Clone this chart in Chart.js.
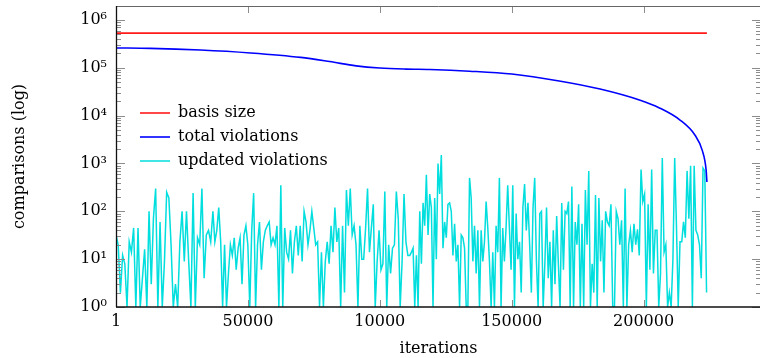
<!DOCTYPE html>
<html>
<head>
<meta charset="utf-8">
<script src="https://cdn.jsdelivr.net/npm/chart.js@4.4.1/dist/chart.umd.min.js"></script>
<style>
  html, body { margin: 0; padding: 0; background: #fff; overflow: hidden; }
  #wrap { width: 770px; height: 358px; }
</style>
</head>
<body>
<div id="wrap"><canvas id="grafico" width="770" height="358"></canvas></div>
<script>
// ticks
const xTickValues = [1, 50000, 100000, 150000, 200000];
const xTickLabels = ["1", "50000", "10000", "150000", "200000"];
const yTickValues = [1, 10, 100, 1000, 10000, 100000, 1000000];
const yTickLabels = ["10⁰", "10¹", "10²", "10³", "10⁴", "10⁵", "10⁶"];

// basis size (constant)
const basisIter = [1, 224000];
const basisSize = [530000, 530000];

// total violations
const totalIter = [1, 13000, 32000, 51000, 70000, 81000, 91000, 100000, 110000, 119000, 134000,
  150000, 168000, 183500, 198700, 206000, 213800, 219500, 222200, 223700, 224000];
const totalViolations = [260000, 255000, 235000, 204000, 165000, 135000, 110000, 99000, 94000, 92000, 85000,
  74000, 53000, 36000, 21000, 14500, 8100, 3900, 1900, 730, 410];

// updated violations, read in six stretches of the x axis
const updatedBreaks = [1, 36742, 74242, 111364, 148485, 185606, 223864];
const updated1 = [32,20,2,12,8,1,23,14,45,1,45,1,4,16,1,100,3,72,300,1,60,1,9,250,190,20,1,3,1,23,100,9,100,9,1,240,1,28,20,300,4,32,40,23,100];
const updated2 = [23,40,120,23,1,20,1,5,20,12,28,6,17,28,3,32,50,20,1,40,240,1,20,60,6,23,40,50,60,20,28,20,50,1,350,1,45,14,10,40,5,23,50,12,50,9,100,60,20,40,100];
const updated3 = [45,20,23,1,14,1,9,23,8,50,14,120,23,45,1,50,2,280,50,300,32,50,20,1,50,10,10,45,300,14,45,140,1,9,40,6,8,260,1,20,5,17,20,260,70,1,9,230,23,12,12];
const updated4 = [14,17,1,12,1,100,8,150,50,580,32,230,120,1,190,10,1000,230,1500,17,60,28,140,150,100,12,55,9,20,1,32,28,17,1,1,500,190,9,50,5,40,1,40,9,23,160,45,9,1,14,1,50,14,500,1,45,9,45,350];
const updated5 = [45,6,350,1,90,10,23,2,120,370,40,150,20,2,120,500,9,1,90,100,1,8,120,4,23,1,40,3,80,8,1,150,6,100,90,160,1,330,1,60,20,140,1,55,1,280,20,700,1,8,2,220,1,190,9,65,2,100];
const updated6 = [60,50,140,1,1,100,70,20,65,1,300,1,20,40,14,55,20,42,12,750,160,230,1,140,6,750,5,40,40,1,5,1300,14,20,1,2,1,10,1300,50,1,23,23,60,28,700,70,900,1,900,40,32,20,4,800,700,2];

const serif = "'DejaVu Serif', 'Liberation Serif', serif";

const basisData = basisIter.map((x, i) => ({ x: x, y: basisSize[i] }));
const totalData = totalIter.map((x, i) => ({ x: x, y: totalViolations[i] }));
const updatedData = [];
[updated1, updated2, updated3, updated4, updated5, updated6].forEach((vals, k) => {
    const a = updatedBreaks[k], b = updatedBreaks[k + 1];
    vals.forEach((v, i) => {
        const t = k === 0 ? i / (vals.length - 1) : (i + 1) / vals.length;
        updatedData.push({ x: a + (b - a) * t, y: v });
    });
});

// pgfplots style frame with inward ticks
const frameTicks = {
    id: "frameTicks",
    afterLayout(chart) {
        const lg = chart.legend;
        lg.left = chart.chartArea.left + 16;
        lg.top = 97;
    },
    afterDatasetsDraw(chart) {
        const { ctx, chartArea: a, scales: { x, y } } = chart;
        ctx.save();
        ctx.lineWidth = 1;
        ctx.strokeStyle = "#8c8c8c";
        ctx.beginPath();
        for (let e = 0; e <= 6; e++) {
            for (let m = 1; m <= 9; m++) {
                const v = m * Math.pow(10, e);
                if (v > y.max) continue;
                const py = Math.round(y.getPixelForValue(v)) + 0.5;
                const len = m === 1 ? 9 : 5;
                ctx.moveTo(a.left, py); ctx.lineTo(a.left + len, py);
                ctx.moveTo(a.right, py); ctx.lineTo(a.right - len, py);
            }
        }
        xTickValues.slice(1).forEach(v => {
            const px = Math.round(x.getPixelForValue(v)) + 0.5;
            ctx.moveTo(px, a.bottom); ctx.lineTo(px, a.bottom - 7);
            ctx.moveTo(px, a.top); ctx.lineTo(px, a.top + 7);
        });
        ctx.stroke();

        ctx.strokeStyle = "#666";
        ctx.beginPath();
        ctx.moveTo(a.left, a.top + 0.5); ctx.lineTo(a.right, a.top + 0.5);
        ctx.moveTo(a.right - 0.5, a.top); ctx.lineTo(a.right - 0.5, a.bottom);
        ctx.stroke();

        ctx.strokeStyle = "#111";
        ctx.lineWidth = 1.3;
        ctx.beginPath();
        ctx.moveTo(a.left + 0.5, a.top); ctx.lineTo(a.left + 0.5, a.bottom);
        ctx.moveTo(a.left, a.bottom); ctx.lineTo(a.right, a.bottom);
        ctx.stroke();
        ctx.restore();
    }
};

const ctx = document.getElementById("grafico").getContext("2d");
const grafico = new Chart(ctx, {
    type: "line",
    data: {
        datasets: [{
            label: "basis size",
            data: basisData,
            borderColor: "#ff1a1a",
            backgroundColor: "#ff1a1a",
            borderWidth: 1.6
        }, {
            label: "total violations",
            data: totalData,
            borderColor: "#0000ff",
            backgroundColor: "#0000ff",
            borderWidth: 1.6,
            cubicInterpolationMode: "monotone"
        }, {
            label: "updated violations",
            data: updatedData,
            borderColor: "#00dede",
            backgroundColor: "#00dede",
            borderWidth: 1.5
        }]
    },
    options: {
        responsive: false,
        animation: false,
        devicePixelRatio: 1,
        elements: { point: { radius: 0 }, line: { tension: 0 } },
        layout: { padding: { top: 6, right: 9, left: 0, bottom: 0 } },
        plugins: {
            tooltip: { enabled: false },
            legend: {
                position: "chartArea",
                align: "start",
                labels: {
                    usePointStyle: true,
                    pointStyle: "line",
                    pointStyleWidth: 30,
                    padding: 8,
                    color: "#000",
                    font: { family: serif, size: 16 }
                }
            }
        },
        scales: {
            x: {
                type: "linear",
                min: 1,
                max: 244500,
                grid: { display: false, drawTicks: false },
                border: { display: false },
                afterBuildTicks: s => { s.ticks = xTickValues.map(v => ({ value: v })); },
                afterFit: s => { s.height = 51; s.paddingLeft = 0; s.paddingRight = 0; },
                ticks: {
                    autoSkip: false,
                    maxRotation: 0,
                    padding: 5,
                    color: "#000",
                    font: { family: serif, size: 16 },
                    callback: v => xTickLabels[xTickValues.indexOf(v)]
                },
                title: {
                    display: true,
                    text: "iterations",
                    color: "#000",
                    font: { family: serif, size: 16 },
                    padding: { top: 0, bottom: 0 }
                }
            },
            y: {
                type: "logarithmic",
                min: 1,
                max: 1960000,
                grid: { display: false, drawTicks: false },
                border: { display: false },
                afterBuildTicks: s => { s.ticks = yTickValues.map(v => ({ value: v })); },
                afterFit: s => { s.width = 116; s.paddingTop = 0; s.paddingBottom = 0; },
                ticks: {
                    padding: 9,
                    color: "#000",
                    font: { family: serif, size: 16 },
                    callback: v => yTickLabels[yTickValues.indexOf(v)]
                },
                title: {
                    display: true,
                    text: "comparisons (log)",
                    color: "#000",
                    font: { family: serif, size: 16 },
                    padding: { top: 10, bottom: 0 }
                }
            }
        }
    },
    plugins: [frameTicks]
});
</script>
</body>
</html>
